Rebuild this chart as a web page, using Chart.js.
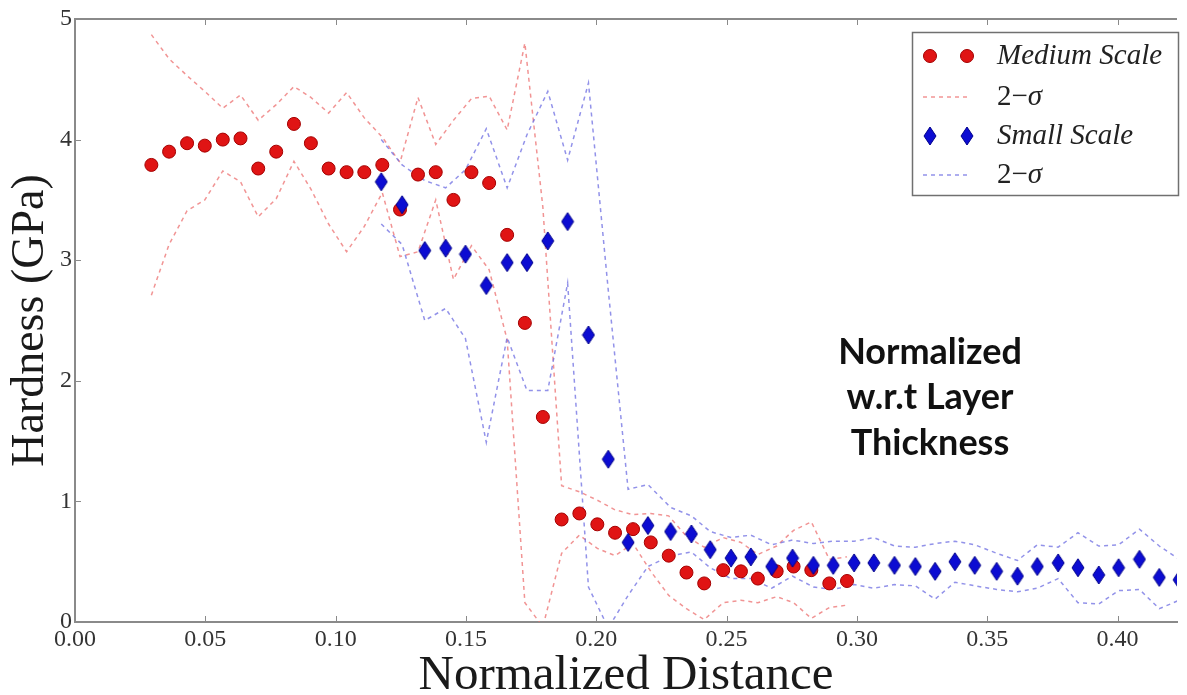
<!DOCTYPE html>
<html>
<head>
<meta charset="utf-8">
<script src="https://cdn.jsdelivr.net/npm/chart.js@4.4.1/dist/chart.umd.min.js"></script>
<style>
  html, body { margin: 0; padding: 0; background: #ffffff; }
  #wrap { width: 1187px; height: 695px; }
</style>
</head>
<body>
<div id="wrap"><canvas id="chart" width="1187" height="695"></canvas></div>
<script>
// Medium-scale indentation: position, mean hardness (GPa) and 2-sigma half width
const mediumX = [0.0293, 0.0361, 0.0430, 0.0498, 0.0567, 0.0635, 0.0703, 0.0772, 0.0840, 0.0905,
                 0.0973, 0.1042, 0.1110, 0.1179, 0.1247, 0.1316, 0.1384, 0.1452, 0.1521, 0.1589,
                 0.1658, 0.1726, 0.1795, 0.1867, 0.1935, 0.2004, 0.2072, 0.2141, 0.2209, 0.2278,
                 0.2346, 0.2414, 0.2487, 0.2555, 0.2620, 0.2692, 0.2757, 0.2825, 0.2894, 0.2962];
const mediumHardness = [3.79, 3.90, 3.97, 3.95, 4.00, 4.01, 3.76, 3.90, 4.13, 3.97,
                        3.76, 3.73, 3.73, 3.79, 3.42, 3.71, 3.73, 3.50, 3.73, 3.64,
                        3.21, 2.48, 1.70, 0.85, 0.90, 0.81, 0.74, 0.77, 0.66, 0.55,
                        0.41, 0.32, 0.43, 0.42, 0.36, 0.42, 0.46, 0.43, 0.32, 0.34];
const mediumTwoSigma = [1.08, 0.77, 0.56, 0.45, 0.26, 0.36, 0.40, 0.39, 0.31, 0.38,
                        0.46, 0.66, 0.45, 0.23, 0.39, 0.64, 0.23, 0.66, 0.61, 0.72,
                        0.87, 2.32, 1.74, 0.28, 0.18, 0.20, 0.19, 0.12, 0.24, 0.33,
                        0.30, 0.30, 0.27, 0.24, 0.20, 0.21, 0.30, 0.40, 0.20, 0.20];

// Small-scale indentation
const smallX = [0.1175, 0.1255, 0.1342, 0.1422, 0.1498, 0.1578, 0.1658, 0.1734, 0.1814, 0.1890,
                0.1970, 0.2046, 0.2122, 0.2198, 0.2285, 0.2365, 0.2437, 0.2517, 0.2593, 0.2673,
                0.2753, 0.2833, 0.2909, 0.2989, 0.3065, 0.3144, 0.3224, 0.3300, 0.3376, 0.3452,
                0.3536, 0.3616, 0.3692, 0.3772, 0.3848, 0.3928, 0.4004, 0.4084, 0.4160, 0.4236];
const smallHardness = [3.65, 3.46, 3.08, 3.10, 3.05, 2.79, 2.98, 2.98, 3.16, 3.32,
                       2.38, 1.35, 0.66, 0.80, 0.75, 0.73, 0.60, 0.53, 0.54, 0.46,
                       0.53, 0.47, 0.47, 0.49, 0.49, 0.47, 0.46, 0.42, 0.50, 0.47,
                       0.42, 0.38, 0.46, 0.49, 0.45, 0.39, 0.45, 0.52, 0.37, 0.35];
const smallTwoSigma = [0.35, 0.33, 0.58, 0.50, 0.70, 1.30, 0.62, 1.06, 1.24, 0.51,
                       2.09, 1.40, 0.44, 0.34, 0.20, 0.15, 0.15, 0.17, 0.18, 0.18,
                       0.15, 0.18, 0.20, 0.18, 0.21, 0.16, 0.16, 0.23, 0.17, 0.17,
                       0.15, 0.13, 0.18, 0.13, 0.29, 0.24, 0.19, 0.25, 0.26, 0.17];

const xTickValues = [0.00, 0.05, 0.10, 0.15, 0.20, 0.25, 0.30, 0.35, 0.40];
const yTickValues = [0, 1, 2, 3, 4, 5];
const noteLines = ['Normalized', 'w.r.t Layer', 'Thickness'];

const RED = '#e01414';
const RED_EDGE = '#a40000';
const BLUE = '#0c0cd2';
const BLUE_EDGE = '#00008a';
const RED_DASH = 'rgba(236,112,112,0.75)';
const BLUE_DASH = 'rgba(110,110,225,0.75)';
const FRAME = '#8a8a8a';

// narrow diamond marker ("d" style)
function diamondGlyph(w, h, fill, edge) {
  const c = document.createElement('canvas');
  c.width = w + 2; c.height = h + 2;
  const g = c.getContext('2d');
  g.beginPath();
  g.moveTo((w + 2) / 2, 1);
  g.lineTo(w + 1, (h + 2) / 2);
  g.lineTo((w + 2) / 2, h + 1);
  g.lineTo(1, (h + 2) / 2);
  g.closePath();
  g.fillStyle = fill; g.fill();
  g.lineWidth = 1; g.strokeStyle = edge; g.stroke();
  return c;
}
const diamond = diamondGlyph(12, 18, BLUE, BLUE_EDGE);

const pts = (xs, ys) => xs.map((x, i) => ({ x, y: ys[i] }));
const band = (xs, ys, s, sign) => xs.map((x, i) => ({ x, y: ys[i] + sign * s[i] }));

const dashed = (label, data, color) => ({
  label, data, type: 'line', showLine: true, fill: false, tension: 0,
  borderColor: color, borderWidth: 1.5, borderDash: [4, 4],
  pointRadius: 0, pointHoverRadius: 0
});

// frame, inward tick marks, legend box and the side note
const decorations = {
  id: 'decorations',
  beforeDatasetsDraw(chart) {
    const { ctx, chartArea: a, scales } = chart;
    ctx.save();
    ctx.strokeStyle = FRAME;
    ctx.lineWidth = 2;
    ctx.beginPath();
    ctx.moveTo(a.left, a.top); ctx.lineTo(a.right, a.top);
    ctx.stroke();
    ctx.lineWidth = 1;
    ctx.beginPath();
    xTickValues.forEach(v => {
      const px = Math.round(scales.x.getPixelForValue(v)) + 0.5;
      ctx.moveTo(px, a.bottom); ctx.lineTo(px, a.bottom - 6);
      ctx.moveTo(px, a.top); ctx.lineTo(px, a.top + 6);
    });
    yTickValues.forEach(v => {
      const py = Math.round(scales.y.getPixelForValue(v)) + 0.5;
      ctx.moveTo(a.left, py); ctx.lineTo(a.left + 6, py);
    });
    ctx.stroke();
    ctx.restore();
  },
  afterDraw(chart) {
    const { ctx } = chart;
    ctx.save();
    // legend
    const bx = 912.5, by = 32.5, bw = 266, bh = 163;
    ctx.fillStyle = '#ffffff';
    ctx.fillRect(bx, by, bw, bh);
    ctx.strokeStyle = '#707070';
    ctx.lineWidth = 1.5;
    ctx.strokeRect(bx, by, bw, bh);

    const rows = [56, 97, 136, 175];
    const m1 = 930, m2 = 967, tx = 997;
    // red circles
    [m1, m2].forEach(x => {
      ctx.beginPath();
      ctx.arc(x, rows[0], 6.5, 0, Math.PI * 2);
      ctx.fillStyle = RED; ctx.fill();
      ctx.lineWidth = 1; ctx.strokeStyle = RED_EDGE; ctx.stroke();
    });
    // blue diamonds
    [m1, m2].forEach(x => ctx.drawImage(diamond, x - diamond.width / 2, rows[2] - diamond.height / 2));
    // dashed samples
    ctx.setLineDash([4, 4]);
    ctx.lineWidth = 1.5;
    ctx.strokeStyle = RED_DASH;
    ctx.beginPath(); ctx.moveTo(923, rows[1]); ctx.lineTo(970, rows[1]); ctx.stroke();
    ctx.strokeStyle = BLUE_DASH;
    ctx.beginPath(); ctx.moveTo(923, rows[3]); ctx.lineTo(970, rows[3]); ctx.stroke();
    ctx.setLineDash([]);

    ctx.fillStyle = '#222222';
    ctx.textBaseline = 'middle';
    ctx.textAlign = 'left';
    ctx.font = 'italic 29px "Liberation Serif"';
    ctx.fillText('Medium Scale', tx, rows[0]);
    ctx.fillText('Small Scale', tx, rows[2]);
    [rows[1], rows[3]].forEach(y => {
      ctx.font = '29px "Liberation Serif"';
      ctx.fillText('2\u2212', tx, y);
      const w = ctx.measureText('2\u2212').width;
      ctx.font = 'italic 29px "Liberation Serif"';
      ctx.fillText('\u03c3', tx + w, y);
    });

    // side note
    ctx.fillStyle = '#111111';
    ctx.textAlign = 'center';
    ctx.font = 'bold 36px Lato';
    noteLines.forEach((t, i) => ctx.fillText(t, 930, 352 + i * 45.5));
    ctx.restore();
  }
};

new Chart(document.getElementById('chart'), {
  type: 'scatter',
  data: {
    datasets: [
      { label: 'Small Scale', data: pts(smallX, smallHardness), pointStyle: diamond,
        pointRadius: 9, pointHoverRadius: 9, showLine: false },
      { label: 'Medium Scale', data: pts(mediumX, mediumHardness), pointStyle: 'circle',
        pointRadius: 6.5, pointHoverRadius: 6.5, backgroundColor: RED, borderColor: RED_EDGE,
        borderWidth: 1, showLine: false },
      dashed('2\u2212\u03c3 small upper', band(smallX, smallHardness, smallTwoSigma, 1), BLUE_DASH),
      dashed('2\u2212\u03c3 small lower', band(smallX, smallHardness, smallTwoSigma, -1), BLUE_DASH),
      dashed('2\u2212\u03c3 medium upper', band(mediumX, mediumHardness, mediumTwoSigma, 1), RED_DASH),
      dashed('2\u2212\u03c3 medium lower', band(mediumX, mediumHardness, mediumTwoSigma, -1), RED_DASH)
    ]
  },
  options: {
    responsive: false,
    animation: false,
    events: [],
    devicePixelRatio: 1,
    layout: { padding: { top: 19, right: 0, left: 0, bottom: 0 } },
    plugins: { legend: { display: false }, tooltip: { enabled: false } },
    scales: {
      x: {
        type: 'linear', min: 0, max: 0.4228,
        afterFit: s => { s.height = 73; },
        afterBuildTicks: s => { s.ticks = xTickValues.map(v => ({ value: v })); },
        grid: { display: false, drawTicks: false },
        border: { display: true, color: FRAME, width: 2 },
        ticks: { color: '#333333', padding: 3, maxRotation: 0, autoSkip: false,
                 font: { family: 'Liberation Serif', size: 24 },
                 callback: v => v.toFixed(2) },
        title: { display: true, text: 'Normalized Distance', color: '#1a1a1a',
                 padding: { top: 0, bottom: 0 },
                 font: { family: 'Liberation Serif', size: 49, lineHeight: 0.76 } }
      },
      y: {
        type: 'linear', min: 0, max: 5,
        afterFit: s => { s.width = 75; },
        afterBuildTicks: s => { s.ticks = yTickValues.map(v => ({ value: v })); },
        grid: { display: false, drawTicks: false },
        border: { display: true, color: FRAME, width: 2 },
        ticks: { color: '#333333', padding: 3, autoSkip: false,
                 font: { family: 'Liberation Serif', size: 24 },
                 callback: v => String(v) },
        title: { display: true, text: 'Hardness (GPa)', color: '#1a1a1a',
                 padding: { top: 3, bottom: 0 },
                 font: { family: 'Liberation Serif', size: 46 } }
      }
    }
  },
  plugins: [decorations]
});
</script>
</body>
</html>
